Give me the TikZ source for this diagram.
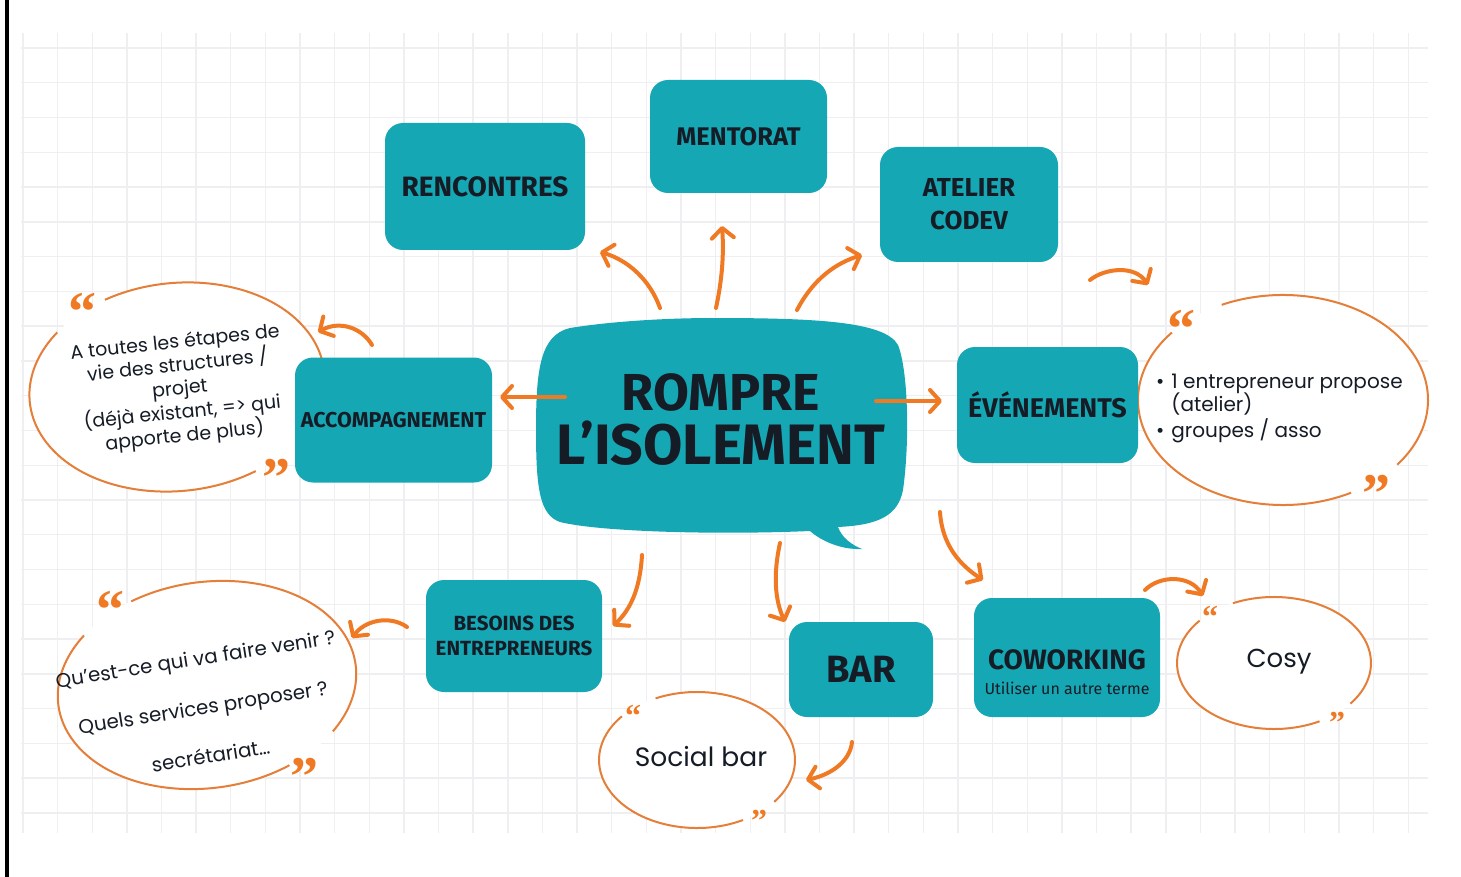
\documentclass[tikz,border=0pt]{standalone}
\usepackage{fontspec}
\setmainfont{Poppins}
\newfontfamily\labelfont{Fira Sans}
\newfontfamily\qfont{Liberation Serif}
\usetikzlibrary{arrows.meta}
\definecolor{tealbox}{RGB}{21,167,180}
\definecolor{orng}{RGB}{240,121,36}
\definecolor{ringc}{RGB}{228,126,56}
\definecolor{inkc}{RGB}{22,28,38}
\definecolor{gridc}{RGB}{239,239,241}
\newcommand\myring[5]{%
  \begin{scope}[shift={(#1,#2)}, rotate=#5]
    \fill[white] (0,0) ellipse [x radius=#3, y radius=#4];
    \draw[ring] (245:#3 and #4) arc[start angle=245, end angle=398, x radius=#3, y radius=#4];
    \draw[ring] (62:#3 and #4) arc[start angle=62, end angle=220, x radius=#3, y radius=#4];
  \end{scope}}
\tikzset{
  box/.style={fill=tealbox, rounded corners=18pt, inner sep=0pt, align=center, text=inkc, font=\labelfont\bfseries},
  arr/.style={draw=orng, line width=4pt, line cap=round, -{Straight Barb[length=10pt, width=22pt, round]}},
  ring/.style={draw=ringc, line width=2pt},
  bigq/.style={text=orng, inner sep=0pt, yshift=-10pt, font=\qfont\bfseries\fontsize{56}{56}\selectfont},
  smallq/.style={text=orng, inner sep=0pt, yshift=-6pt, font=\qfont\bfseries\fontsize{32}{32}\selectfont},
  qtext/.style={text=inkc, align=center, inner sep=0pt, font=\fontsize{19}{23.5}\selectfont},
}
\begin{document}
\begin{tikzpicture}[x=1pt, y=-1pt]
\useasboundingbox (0,0) rectangle (1461,877);
\fill[white] (0,0) rectangle (1461,877);
% grid
\foreach \i in {0,...,40} \draw[gridc, line width=1.4pt] ({23+34.63*\i},33) -- ({23+34.63*\i},833);
\foreach \k in {0,...,22} \draw[gridc, line width=1.4pt] (21,{48+34.77*\k}) -- (1428,{48+34.77*\k});
% left border
\fill[black] (5,0) rectangle (9,877);

% quote rings
\myring{177}{387}{148}{104}{6}
\myring{1283}{400}{145}{105}{0}
\myring{207}{685}{150}{103}{8}
\myring{1274}{663}{97}{66}{0}
\myring{697}{760}{98}{68}{0}

% central bubble
\fill[tealbox] (713,318) .. controls (820,318) and (885,322) .. (898,345)
  .. controls (908,370) and (910,440) .. (903,490)
  .. controls (898,515) and (880,525) .. (838,527)
  .. controls (842,538) and (852,545) .. (862,549)
  .. controls (840,550) and (820,540) .. (810,531)
  .. controls (720,535) and (600,532) .. (560,522)
  .. controls (540,515) and (536,490) .. (536,430)
  .. controls (536,370) and (540,335) .. (570,328)
  .. controls (620,320) and (680,318) .. (713,318) -- cycle;
\node[text=inkc, align=center, inner sep=0pt, font=\labelfont\bfseries\fontsize{52}{54}\selectfont] (center) at (721,420)
  {ROMPRE\\{\fontsize{57}{54}\selectfont L’ISOLEMENT}};

% boxes
\node[box, minimum width=200pt, minimum height=127pt, font=\labelfont\bfseries\fontsize{28}{30}\selectfont] (renc) at (485,186.5) {RENCONTRES};
\node[box, minimum width=177pt, minimum height=113pt, font=\labelfont\bfseries\fontsize{25.5}{26}\selectfont] (ment) at (738.5,136.5) {MENTORAT};
\node[box, minimum width=178pt, minimum height=115pt, font=\labelfont\bfseries\fontsize{26}{33}\selectfont] (atel) at (969,204.5) {ATELIER\\CODEV};
\node[box, minimum width=197pt, minimum height=125pt, font=\labelfont\bfseries\fontsize{21.5}{22}\selectfont] (accomp) at (393.5,420) {ACCOMPAGNEMENT};
\node[box, minimum width=181pt, minimum height=116pt, font=\labelfont\bfseries\fontsize{27}{26}\selectfont] (even) at (1047.5,405) {ÉVÉNEMENTS};
\node[box, minimum width=176pt, minimum height=112pt, font=\labelfont\bfseries\fontsize{20.5}{25}\selectfont] (besoins) at (514,636) {BESOINS DES\\ENTREPRENEURS};
\node[box, minimum width=144pt, minimum height=95pt, font=\labelfont\bfseries\fontsize{38}{40}\selectfont] (bar) at (861,669.5) {BAR};
\node[box, minimum width=186pt, minimum height=119pt] (cowork) at (1067,657.5) {};
\node[text=inkc, align=center, inner sep=0pt, font=\labelfont\bfseries\fontsize{28}{30}\selectfont] (tcowork) at (1067,672)
  {COWORKING\\[-5pt]{\mdseries\fontsize{16}{16}\selectfont Utiliser un autre terme}};

% ring texts
\node[qtext, rotate=6] (taccomp) at (180,390) {A toutes les étapes de\\vie des structures /\\projet\\(déjà existant, => qui\\apporte de plus)};
\node[qtext, anchor=west, align=left, font=\fontsize{20}{24}\selectfont] (teven) at (1156,408)
  {\begin{tabular}{@{}l@{\hspace{7pt}}l@{}}•&1 entrepreneur propose\\[-3pt] &(atelier)\\ •&groupes / asso\end{tabular}};
\node[qtext, rotate=9, font=\fontsize{19.8}{22}\selectfont] (tbesoins) at (203,707) {Qu’est-ce qui va faire venir ?\\[27pt]Quels services proposer ?\\[27pt]secrétariat…};
\node[text=inkc, inner sep=0pt, font=\fontsize{26}{30}\selectfont] (tcosy) at (1279,662) {Cosy};
\node[text=inkc, inner sep=0pt, font=\fontsize{26.5}{30}\selectfont] (tsocial) at (701,757) {Social bar};

% quote marks
\node[bigq] (q1) at (82,302) {“};
\node[bigq] (q2) at (276,468) {”};
\node[bigq] (q3) at (1181,319) {“};
\node[bigq] (q4) at (1376,484) {”};
\node[bigq] (q5) at (110,600) {“};
\node[bigq] (q6) at (304,767) {”};
\node[smallq] (q7) at (1210,611) {“};
\node[smallq] (q8) at (1337,717) {”};
\node[smallq] (q9) at (633,710) {“};
\node[smallq] (q10) at (759,815) {”};

% arrow end points
\coordinate (a1s) at (660,308); \coordinate (a1e) at (600,252);
\coordinate (a2s) at (716,308); \coordinate (a2e) at (722,226);
\coordinate (a3s) at (797,310); \coordinate (a3e) at (862,255);
\coordinate (a4s) at (565,397); \coordinate (a4e) at (500,397);
\coordinate (a5s) at (876,401); \coordinate (a5e) at (942,401);
\coordinate (a6s) at (372,345); \coordinate (a6e) at (318,332);
\coordinate (a7s) at (1090,280); \coordinate (a7e) at (1148,285);
\coordinate (a8s) at (642,555); \coordinate (a8e) at (613,626);
\coordinate (a9s) at (780,543); \coordinate (a9e) at (785,622);
\coordinate (a10s) at (940,512); \coordinate (a10e) at (983,580);
\coordinate (a11s) at (407,627); \coordinate (a11e) at (352,638);
\coordinate (a12s) at (852,742); \coordinate (a12e) at (806,780);
\coordinate (a13s) at (1145,590); \coordinate (a13e) at (1203,596);

\draw[arr] (a1s) .. controls (650,280) and (628,260) .. (a1e);
\draw[arr] (a2s) .. controls (722,280) and (724,255) .. (a2e);
\draw[arr] (a3s) .. controls (810,285) and (830,265) .. (a3e);
\draw[arr] (a4s) -- (a4e);
\draw[arr] (a5s) -- (a5e);
\draw[arr] (a6s) .. controls (362,328) and (340,320) .. (a6e);
\draw[arr] (a7s) .. controls (1105,268) and (1135,265) .. (a7e);
\draw[arr] (a8s) .. controls (640,590) and (630,610) .. (a8e);
\draw[arr] (a9s) .. controls (773,575) and (775,600) .. (a9e);
\draw[arr] (a10s) .. controls (942,545) and (960,565) .. (a10e);
\draw[arr] (a11s) .. controls (390,615) and (365,620) .. (a11e);
\draw[arr] (a12s) .. controls (850,762) and (830,775) .. (a12e);
\draw[arr] (a13s) .. controls (1160,575) and (1190,575) .. (a13e);
\end{tikzpicture}
\end{document}
